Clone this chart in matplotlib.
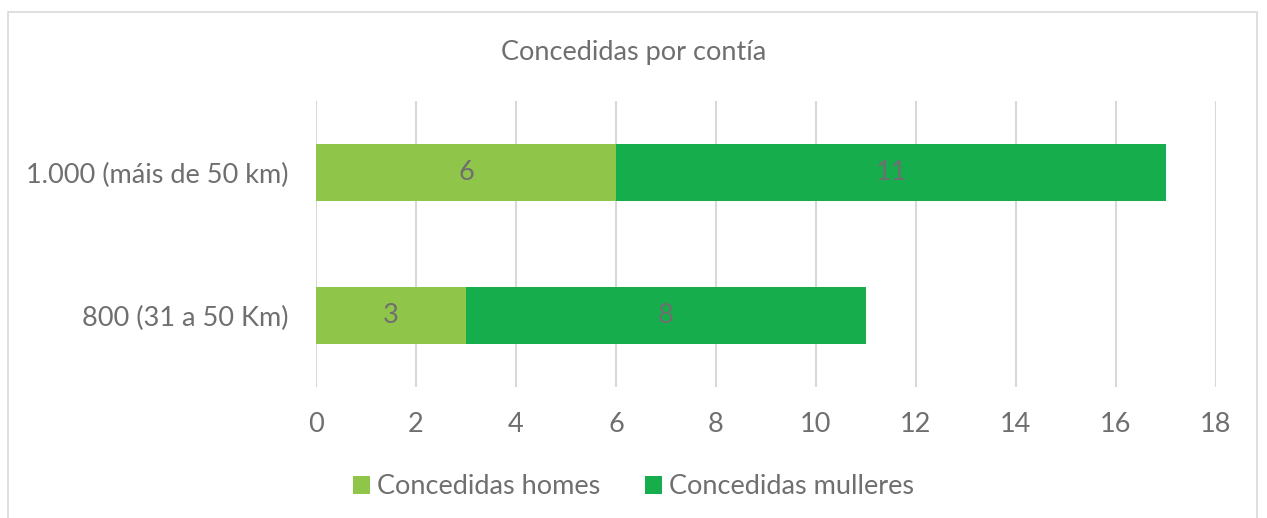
import matplotlib.pyplot as plt
from matplotlib.patches import Rectangle

categories = ["800 (31 a 50 Km)", "1.000 (máis de 50 km)"]
homes = [3, 6]
mulleres = [8, 11]
series_names = ["Concedidas homes", "Concedidas mulleres"]
xticks = [0, 2, 4, 6, 8, 10, 12, 14, 16, 18]

light = "#8FC649"
dark = "#16AD4D"
txt = "#6F6F6F"
fs = 19.5

plt.rcParams['font.family'] = ['Lato', 'DejaVu Sans']

fig = plt.figure(figsize=(12.67, 5.18), dpi=100)
ax = fig.add_axes([0.2494, 0.2529, 0.7103, 0.5521])

y = list(range(len(categories)))
b1 = ax.barh(y, homes, height=0.4, color=light, label=series_names[0], zorder=3)
b2 = ax.barh(y, mulleres, left=homes, height=0.4, color=dark, label=series_names[1], zorder=3)
for bars in (b1, b2):
    ax.bar_label(bars, label_type='center', color=txt, fontsize=fs)

ax.set_xlim(0, 18)
ax.set_ylim(-0.5, 1.5)
ax.set_xticks(xticks)
ax.set_yticks(y)
ax.set_yticklabels(categories)
ax.tick_params(length=0, labelsize=fs, colors=txt)
ax.tick_params(axis='x', pad=18)
ax.tick_params(axis='y', pad=20)
ax.grid(axis='x', color="#D9D9D9", linewidth=1.5, zorder=0)
for s in ax.spines.values():
    s.set_visible(False)

fig.text(0.5, 0.898, "Concedidas por contía", ha='center', va='center', fontsize=fs, color=txt)

leg = fig.legend(loc='center', bbox_to_anchor=(0.5, 0.06), ncol=2, frameon=False,
                 fontsize=fs, handlelength=0.63, handleheight=0.63, handletextpad=0.26,
                 columnspacing=1.66)
for t in leg.get_texts():
    t.set_color(txt)

# chart border
fig.patches.append(Rectangle((8 / 1267, -0.1), 1249 / 1267, 1.1 - 12 / 518,
                             transform=fig.transFigure, fill=False,
                             edgecolor="#D9D9D9", linewidth=1.2))

fig.savefig("out.png", dpi=100)
